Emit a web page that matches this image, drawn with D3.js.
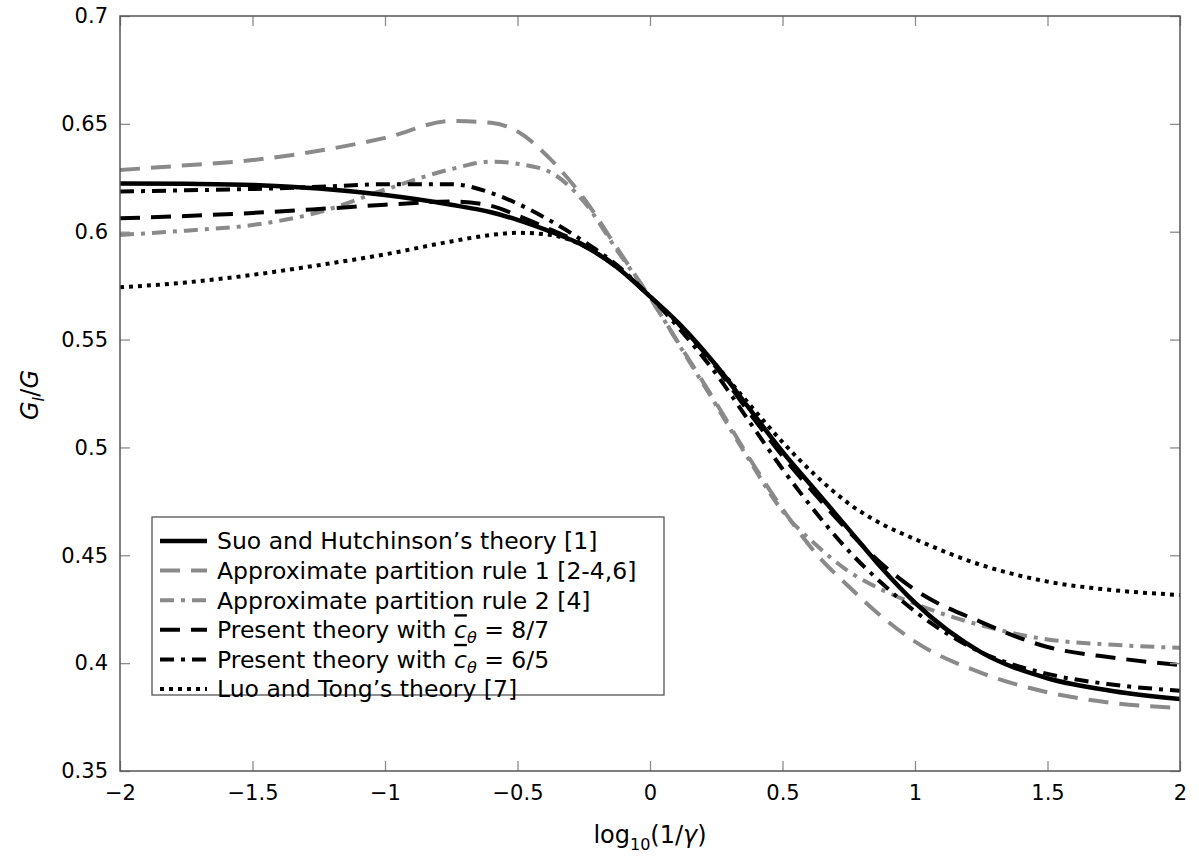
<!DOCTYPE html>
<html>
<head>
<meta charset="utf-8">
<script src="https://cdn.jsdelivr.net/npm/d3@7"></script>
<style>
  html, body { margin: 0; padding: 0; background: #fff; }
  svg { display: block; }
  text { font-family: "DejaVu Sans", sans-serif; }
</style>
</head>
<body>
<svg id="chart" width="1199" height="864"></svg>
<script>
// ---- data ----
const xValues = [-2, -1.75, -1.5, -1.25, -1, -0.75, -0.6, -0.5, -0.375, -0.25, -0.125, 0,
                 0.125, 0.25, 0.375, 0.5, 0.625, 0.75, 0.875, 1, 1.25, 1.5, 1.75, 2];

const suoHutchinson = [0.6224, 0.6222, 0.6217, 0.6200, 0.6170, 0.6125, 0.6090, 0.6055, 0.6000, 0.5935, 0.5835, 0.5700,
                       0.5555, 0.5380, 0.5180, 0.4980, 0.4800, 0.4620, 0.4440, 0.4280, 0.4050, 0.3930, 0.3870, 0.3834];
const approxRule1   = [0.6286, 0.6308, 0.6332, 0.6375, 0.6435, 0.6513, 0.6505, 0.6465, 0.6335, 0.6155, 0.5925, 0.5695,
                       0.5450, 0.5205, 0.4950, 0.4715, 0.4510, 0.4355, 0.4215, 0.4100, 0.3955, 0.3865, 0.3815, 0.3792];
const approxRule2   = [0.5985, 0.6005, 0.6031, 0.6090, 0.6195, 0.6290, 0.6325, 0.6315, 0.6275, 0.6140, 0.5915, 0.5695,
                       0.5445, 0.5195, 0.4940, 0.4705, 0.4550, 0.4425, 0.4340, 0.4275, 0.4175, 0.4110, 0.4085, 0.4071];
const present87     = [0.6062, 0.6073, 0.6087, 0.6105, 0.6125, 0.6140, 0.6120, 0.6075, 0.6010, 0.5940, 0.5840, 0.5700,
                       0.5550, 0.5370, 0.5160, 0.4960, 0.4780, 0.4610, 0.4460, 0.4340, 0.4190, 0.4075, 0.4025, 0.3991];
const present65     = [0.6186, 0.6192, 0.6198, 0.6208, 0.6220, 0.6220, 0.6180, 0.6130, 0.6050, 0.5955, 0.5845, 0.5700,
                       0.5530, 0.5340, 0.5120, 0.4900, 0.4700, 0.4520, 0.4370, 0.4240, 0.4050, 0.3950, 0.3900, 0.3872];
const luoTong       = [0.5742, 0.5765, 0.5800, 0.5845, 0.5895, 0.5955, 0.5985, 0.5995, 0.5985, 0.5935, 0.5835, 0.5700,
                       0.5550, 0.5380, 0.5200, 0.5025, 0.4870, 0.4740, 0.4645, 0.4575, 0.4455, 0.4378, 0.4338, 0.4316];

const seriesNames = ["Suo and Hutchinson’s theory [1]",
                     "Approximate partition rule 1 [2-4,6]",
                     "Approximate partition rule 2 [4]",
                     "Present theory with c=8/7",
                     "Present theory with c=6/5",
                     "Luo and Tong’s theory [7]"];
const xTicks = [-2, -1.5, -1, -0.5, 0, 0.5, 1, 1.5, 2];
const yTicks = [0.35, 0.4, 0.45, 0.5, 0.55, 0.6, 0.65, 0.7];

// ---- styles ----
const gray = "#8a8a8a";
const styles = [
  { color: "#000", width: 4.5, dash: null },
  { color: gray,   width: 4,   dash: "20,11" },
  { color: gray,   width: 4,   dash: "14,7,4,7" },
  { color: "#000", width: 4,   dash: "20,11" },
  { color: "#000", width: 4,   dash: "14,7,4,7" },
  { color: "#000", width: 4,   dash: "4,5" }
];
const allSeries = [suoHutchinson, approxRule1, approxRule2, present87, present65, luoTong];

const svg = d3.select("#chart");
const L = 120, R = 1180, T = 16, B = 771;
const x = d3.scaleLinear().domain([-2, 2]).range([L, R]);
const y = d3.scaleLinear().domain([0.35, 0.7]).range([B, T]);

svg.append("rect").attr("width", 1199).attr("height", 864).attr("fill", "#fff");

svg.append("clipPath").attr("id", "clip").append("rect")
  .attr("x", L).attr("y", T).attr("width", R - L).attr("height", B - T);

const line = d3.line().x((d, i) => x(xValues[i])).y(d => y(d)).curve(d3.curveMonotoneX);
const plot = svg.append("g").attr("clip-path", "url(#clip)");
const order = [1, 2, 5, 3, 4, 0];
order.forEach(k => {
  plot.append("path")
    .datum(allSeries[k])
    .attr("d", line)
    .attr("fill", "none")
    .attr("stroke", styles[k].color)
    .attr("stroke-width", styles[k].width)
    .attr("stroke-dasharray", styles[k].dash)
    .attr("stroke-linecap", "butt");
});

const tickColor = "#8c8c8c";
const fmtY = v => String(+v.toFixed(2));
const fmtX = v => (v < 0 ? "\u2212" : "") + String(Math.abs(v));

const axB = svg.append("g").attr("transform", `translate(0,${B})`)
  .call(d3.axisBottom(x).tickValues(xTicks).tickSize(-10).tickPadding(14).tickFormat(fmtX));
const axT = svg.append("g").attr("transform", `translate(0,${T})`)
  .call(d3.axisTop(x).tickValues(xTicks).tickSize(-10).tickFormat(""));
const axL = svg.append("g").attr("transform", `translate(${L},0)`)
  .call(d3.axisLeft(y).tickValues(yTicks).tickSize(-10).tickPadding(12).tickFormat(fmtY));
const axR = svg.append("g").attr("transform", `translate(${R},0)`)
  .call(d3.axisRight(y).tickValues(yTicks).tickSize(-10).tickFormat(""));
[axB, axT, axL, axR].forEach(g => {
  g.select(".domain").remove();
  g.selectAll(".tick line").attr("stroke", tickColor).attr("stroke-width", 1.3);
  g.selectAll(".tick text").attr("fill", "#000").style("font-size", "21px")
    .style("font-family", "'DejaVu Sans', sans-serif");
});
axB.selectAll(".tick text").attr("dy", "0.71em");

svg.append("rect").attr("x", L).attr("y", T).attr("width", R - L).attr("height", B - T)
  .attr("fill", "none").attr("stroke", "#555").attr("stroke-width", 1.5);

// x label
const xl = svg.append("text").attr("x", (L + R) / 2).attr("y", 843).attr("text-anchor", "middle")
  .style("font-size", "24px");
xl.append("tspan").text("log");
xl.append("tspan").attr("dy", 7).style("font-size", "16px").text("10");
xl.append("tspan").attr("dy", -7).text("(1/");
xl.append("tspan").style("font-style", "italic").text("γ");
xl.append("tspan").text(")");

// y label
const yl = svg.append("text").attr("transform", "translate(38,395) rotate(-90)")
  .attr("text-anchor", "middle").style("font-size", "24px");
yl.append("tspan").style("font-style", "italic").text("G");
yl.append("tspan").attr("dy", 6).style("font-size", "16px").style("font-style", "italic").text("I");
yl.append("tspan").attr("dy", -6).text("/");
yl.append("tspan").style("font-style", "italic").text("G");

// legend
const lg = svg.append("g");
lg.append("rect").attr("x", 152).attr("y", 517).attr("width", 512).attr("height", 178)
  .attr("fill", "#fff").attr("stroke", "#555").attr("stroke-width", 1.3);
const rowY = i => 541 + i * 29.6;
seriesNames.forEach((name, i) => {
  lg.append("line").attr("x1", 160).attr("x2", 207).attr("y1", rowY(i)).attr("y2", rowY(i))
    .attr("stroke", styles[i].color).attr("stroke-width", styles[i].width)
    .attr("stroke-dasharray", styles[i].dash);
  const t = lg.append("text").attr("x", 217).attr("y", rowY(i)).attr("dy", "0.36em")
    .style("font-size", "23.5px");
  if (name.indexOf("c=") >= 0) {
    const parts = name.split("c=");
    t.append("tspan").text(parts[0]);
    t.append("tspan").style("font-style", "italic").style("text-decoration", "overline").text("c");
    t.append("tspan").attr("dy", 5).style("font-size", "16px").style("font-style", "italic").text("θ");
    t.append("tspan").attr("dy", -5).text(" = " + parts[1]);
  } else {
    t.text(name);
  }
});
</script>
</body>
</html>
